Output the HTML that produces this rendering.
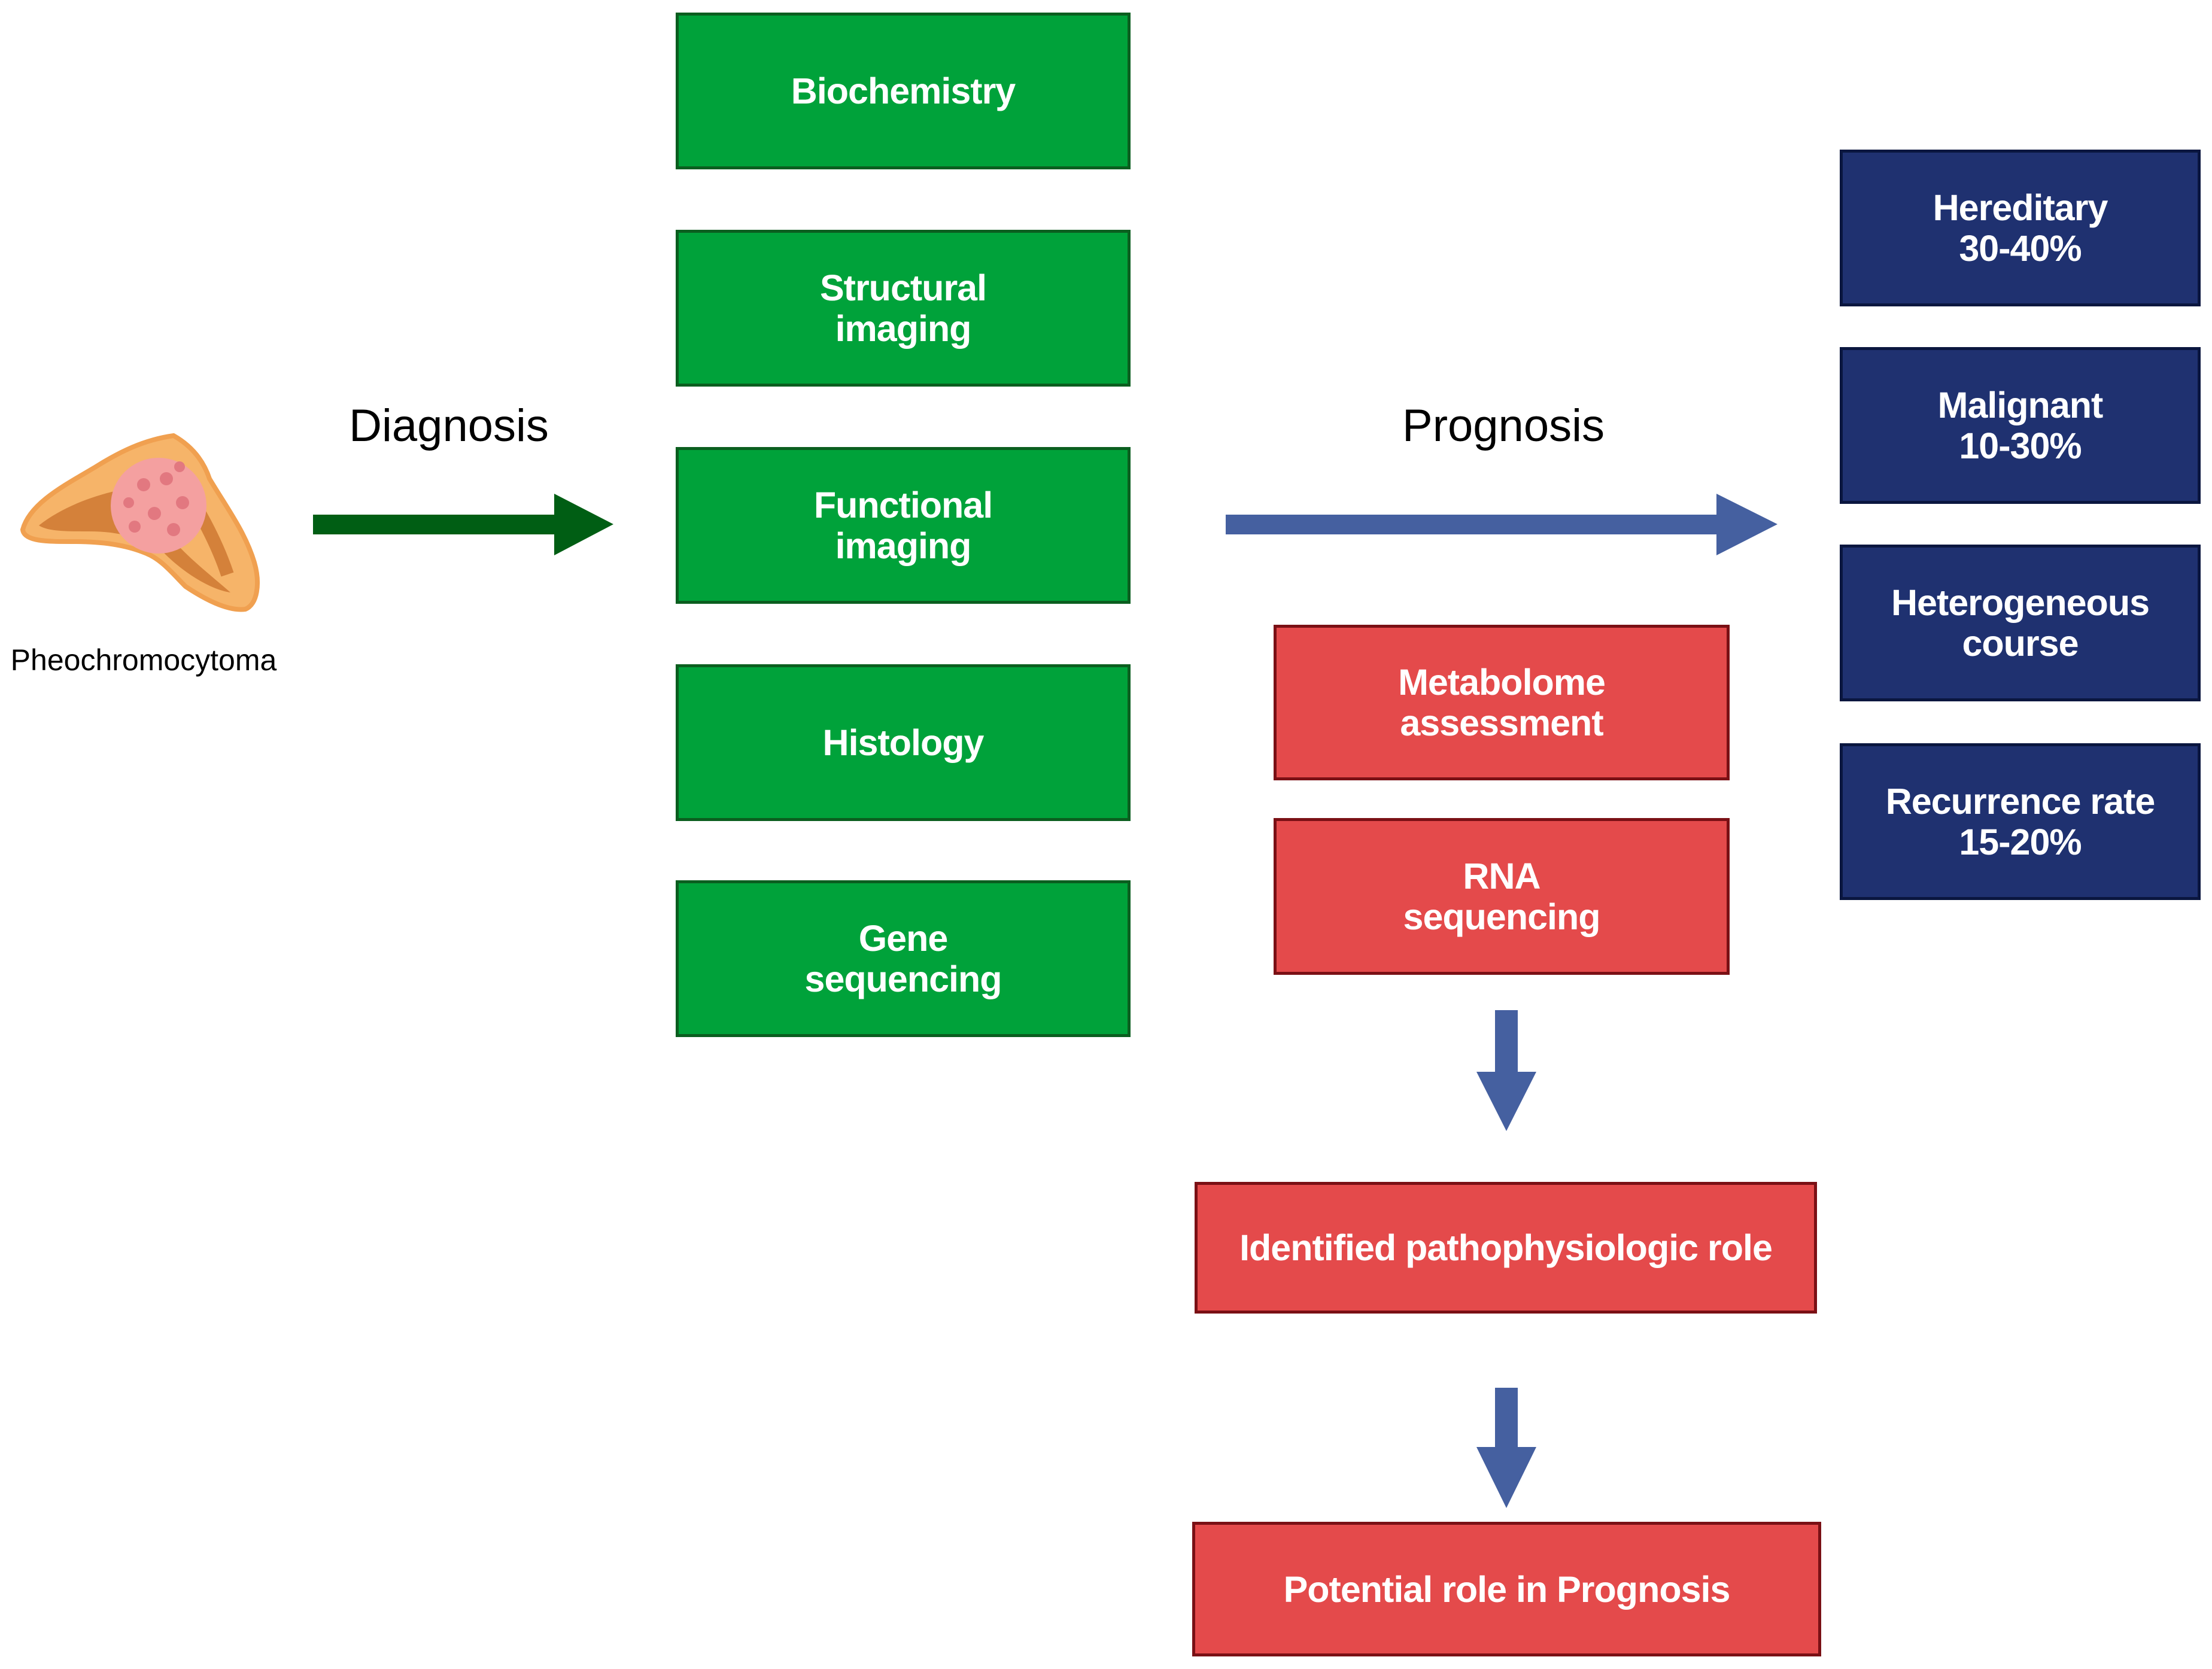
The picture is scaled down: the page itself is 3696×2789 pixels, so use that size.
<!DOCTYPE html>
<html><head><meta charset="utf-8"><style>
html,body{margin:0;padding:0;background:#fff}
body{width:3696px;height:2789px;position:relative;overflow:hidden;font-family:"Liberation Sans",sans-serif}
.b{position:absolute;box-sizing:border-box;border:5px solid;display:flex;align-items:center;justify-content:center;text-align:center;color:#fff;font-size:61px;line-height:68px;font-weight:bold;letter-spacing:-1px}
.g{background:#00A23A;border-color:#0b5e1f;left:1129px;width:760px;height:262px}
.r{background:#E44A4B;border-color:#7a1015}
.n{background:#1F3170;border-color:#0a163f;left:3074px;width:603px;height:262px}
.t{position:absolute;font-size:76px;color:#000;transform:translateX(-50%);white-space:nowrap}
</style></head><body>
<div class="b g" style="top:21px">Biochemistry</div>
<div class="b g" style="top:384px">Structural<br>imaging</div>
<div class="b g" style="top:747px">Functional<br>imaging</div>
<div class="b g" style="top:1110px">Histology</div>
<div class="b g" style="top:1471px">Gene<br>sequencing</div>

<div class="b n" style="top:250px">Hereditary<br>30-40%</div>
<div class="b n" style="top:580px">Malignant<br>10-30%</div>
<div class="b n" style="top:910px">Heterogeneous<br>course</div>
<div class="b n" style="top:1242px">Recurrence rate<br>15-20%</div>

<div class="b r" style="left:2128px;top:1044px;width:762px;height:260px">Metabolome<br>assessment</div>
<div class="b r" style="left:2128px;top:1367px;width:762px;height:262px">RNA<br>sequencing</div>
<div class="b r" style="left:1996px;top:1975px;width:1040px;height:220px">Identified pathophysiologic role</div>
<div class="b r" style="left:1992px;top:2543px;width:1051px;height:225px">Potential role in Prognosis</div>

<div class="t" style="left:750px;top:668px">Diagnosis</div>
<div class="t" style="left:2512px;top:668px">Prognosis</div>
<div class="t" style="left:240px;top:1074px;font-size:50px">Pheochromocytoma</div>

<svg width="3696" height="2789" style="position:absolute;left:0;top:0">
<polygon points="523,860 926,860 926,825 1025,876 926,928 926,893 523,893" fill="#005E14"/>
<polygon points="2048,860 2868,860 2868,825 2970,876 2868,928 2868,893 2048,893" fill="#4560A0"/>
<polygon points="2498,1688 2536,1688 2536,1791 2567,1791 2517,1890 2467,1791 2498,1791" fill="#4560A0"/>
<polygon points="2498,2319 2536,2319 2536,2418 2567,2418 2517,2520 2467,2418 2498,2418" fill="#4560A0"/>
<g>
<path d="M38,885 C50,840 110,810 160,780 C200,755 240,735 290,728 C320,745 340,770 350,800 C380,850 410,890 425,940 C435,975 430,1010 410,1018 C380,1022 340,1000 310,980 C290,960 270,935 245,925 C210,910 170,905 120,905 C80,905 40,905 38,885 Z" fill="#F6B469" stroke="#F0A050" stroke-width="8"/>
<path d="M65,878 C100,850 150,830 195,820 C230,822 255,860 275,885 C305,925 345,955 385,990 C350,985 305,955 275,925 C245,900 200,888 150,888 C110,888 80,888 65,878 Z" fill="#D4813A"/>
<path d="M300,800 C330,850 360,900 380,960" stroke="#D4813A" stroke-width="22" fill="none"/>
<circle cx="265" cy="845" r="80" fill="#F4A0A0"/>
<g fill="#E27880"><circle cx="240" cy="810" r="11"/><circle cx="278" cy="800" r="11"/><circle cx="305" cy="840" r="11"/><circle cx="258" cy="858" r="11"/><circle cx="290" cy="885" r="11"/><circle cx="225" cy="880" r="10"/><circle cx="300" cy="780" r="9"/><circle cx="215" cy="840" r="9"/></g>
</g>
</svg>
</body></html>
